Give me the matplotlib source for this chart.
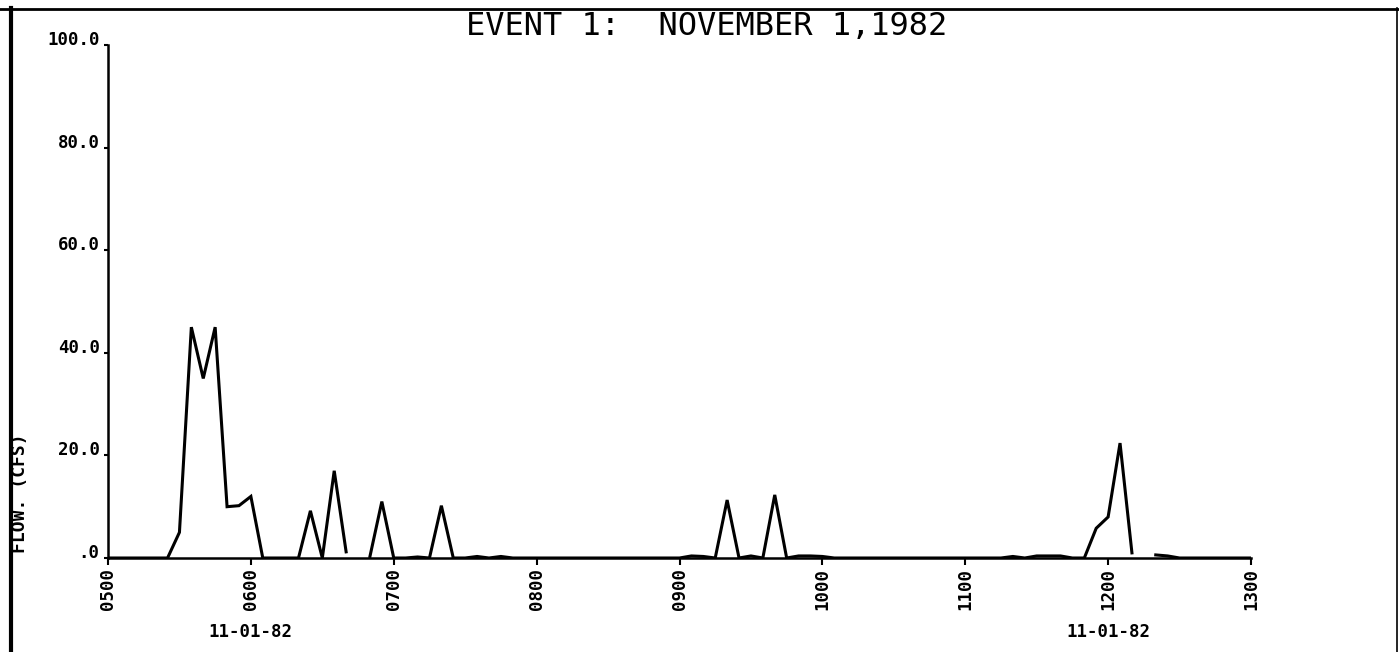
import numpy as np
import matplotlib
matplotlib.use("Agg")
import matplotlib.pyplot as plt
from matplotlib.lines import Line2D

# ---- data -------------------------------------------------------------
# sample times: minutes after 05:00, every 5 minutes until 13:00
minutes = np.arange(0, 481, 5)
nan = np.nan
flow_cfs = [
    0, 0, 0, 0, 0, 0,                                   # 05:00-05:25
    5, 45, 35, 45, 10, 10.2, 12, 0, 0, 0, 0, 9.2, 0, 17, 1.2,  # 05:30-06:40
    nan, 0.3, 11, 0, 0, 0.2, 0, 10.2, 0, 0, 0.3, 0, 0.3, 0,    # 06:45-07:50
    0, 0, 0, 0, 0, 0, 0, 0, 0, 0, 0, 0, 0,              # 07:55-08:55
    0, 0.4, 0.3, 0, 11.3, 0, 0.4, 0, 12.3, 0, 0.4, 0.4, 0.3, 0,  # 09:00-10:05
    0, 0, 0, 0, 0, 0, 0, 0, 0, 0, 0, 0, 0,              # 10:10-11:10
    0, 0.3, 0, 0.4, 0.4, 0.4, 0, 0, 5.8, 8, 22.4, 1, nan, 0.6, 0.4,  # 11:15-12:25
    0, 0, 0, 0, 0, 0, 0,                                # 12:30-13:00
]
x_ticks = [0, 60, 120, 180, 240, 300, 360, 420, 480]
x_tick_labels = ["0500", "0600", "0700", "0800", "0900", "1000", "1100", "1200", "1300"]
y_ticks = [0, 20, 40, 60, 80, 100]
y_tick_labels = [".0", "20.0", "40.0", "60.0", "80.0", "100.0"]
date_label_pos = [60, 420]
date_label = "11-01-82"
title = "EVENT 1:  NOVEMBER 1,1982"

# ---- figure -----------------------------------------------------------
W, H = 1399, 652
fig = plt.figure(figsize=(W / 100, H / 100), dpi=100)
fig.patch.set_facecolor("white")
mono = "DejaVu Sans Mono"

ax = fig.add_axes([108 / W, 94 / H, (1251 - 108) / W, (558 - 45) / H])
ax.plot(minutes, flow_cfs, color="black", lw=2.2, solid_joinstyle="miter")
ax.set_xlim(0, 480)
ax.set_ylim(0, 100)

for s in ["top", "right"]:
    ax.spines[s].set_visible(False)
for s in ["left", "bottom"]:
    ax.spines[s].set_linewidth(1.8)

ax.set_xticks(x_ticks)
ax.set_xticklabels(x_tick_labels, rotation=90, family=mono, fontsize=12.5, fontweight="bold")
ax.set_yticks(y_ticks)
ax.set_yticklabels(y_tick_labels, family=mono, fontsize=12.5, fontweight="bold")
for lbl in ax.get_yticklabels():
    lbl.set_va("baseline")
ax.tick_params(axis="x", direction="out", length=5, width=1.5, pad=2)
ax.tick_params(axis="y", direction="out", length=3, width=1.5, pad=3)

for xp in date_label_pos:
    ax.text(xp, -0.145, date_label, transform=ax.get_xaxis_transform(),
            ha="center", va="center", family=mono, fontsize=12.5, fontweight="bold")

fig.text(20 / W, 1 - 493 / H, "FLOW. (CFS)", rotation=90, ha="center", va="center",
         family=mono, fontsize=13, fontweight="bold")

fig.text(707 / W, 1 - 35 / H, title, ha="center", va="baseline", family=mono, fontsize=23)

# page frame
fig.add_artist(Line2D([11 / W, 11 / W], [0, 1 - 8 / H], color="black", lw=3, transform=fig.transFigure))
fig.add_artist(Line2D([0, 1], [1 - 9 / H, 1 - 9 / H], color="black", lw=2, transform=fig.transFigure))
fig.add_artist(Line2D([1397 / W, 1397 / W], [0, 1 - 8 / H], color="black", lw=1.2, transform=fig.transFigure))

fig.savefig("out.png", dpi=100, facecolor="white")
